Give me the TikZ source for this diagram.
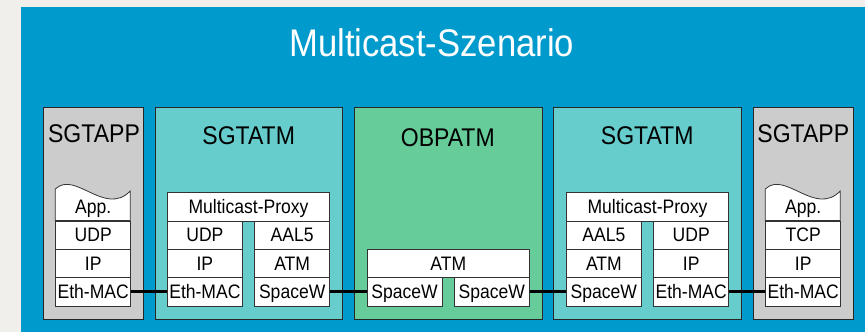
\documentclass[tikz,border=0pt]{standalone}
\usepackage{fontspec}
\setmainfont[FakeStretch=0.9]{Liberation Sans}
\definecolor{pagec}{HTML}{F0EFEC}
\definecolor{bluec}{HTML}{009ACC}
\definecolor{greyc}{HTML}{CCCCCC}
\definecolor{tealc}{HTML}{66CCCC}
\definecolor{greenc}{HTML}{66CC99}
\definecolor{edgec}{HTML}{262626}
\definecolor{layerc}{HTML}{333333}
\begin{document}
\begin{tikzpicture}[x=1pt,y=-1pt,
  outer/.style={draw=edgec, line width=1.1pt, anchor=north west, inner sep=0pt,
    minimum height=212pt},
  layer/.style={draw=layerc, line width=0.8pt, fill=white, anchor=north west,
    inner sep=0pt, minimum width=75pt, minimum height=28.3pt,
    font=\fontsize{19.5}{20}\selectfont, text height=13.5pt, text depth=0pt},
  widelayer/.style={layer, minimum width=162.3pt},
  boxtitle/.style={anchor=base, inner sep=0pt, font=\fontsize{25.6}{26}\selectfont},
  link/.style={line width=3pt, black}]
% page and blue panel
\useasboundingbox (0,0) rectangle (865,332);
\fill[pagec] (0,0) rectangle (865,332);
\fill[bluec] (21,7) rectangle (865,332);
\node[anchor=base, inner sep=0pt, text=white, font=\fontsize{38.5}{40}\selectfont]
  (title) at (431.7,56.7) {Multicast-Szenario};

% stations
\node[outer, fill=greyc,  minimum width=100pt]   (appL) at (42.7,107.3) {};
\node[outer, fill=tealc,  minimum width=187.3pt] (atmL) at (155,107.3) {};
\node[outer, fill=greenc, minimum width=187.7pt] (obp)  at (354,107.3) {};
\node[outer, fill=tealc,  minimum width=187.7pt] (atmR) at (553.3,107.3) {};
\node[outer, fill=greyc,  minimum width=99.4pt]  (appR) at (753.3,107.3) {};

\node[boxtitle] (tAppL) at (94,142) {SGTAPP};
\node[boxtitle] (tAtmL) at (248.7,144) {SGTATM};
\node[boxtitle] (tObp)  at (447.8,146) {OBPATM};
\node[boxtitle] (tAtmR) at (647.2,144) {SGTATM};
\node[boxtitle] (tAppR) at (803.3,142) {SGTAPP};

% left application station
\draw[draw=layerc, line width=0.8pt, fill=white]
  (55.3,220.6) -- (55.3,189) .. controls (75,170) and (105,217) .. (130.3,191)
  -- (130.3,220.6) -- cycle;
\node[layer, draw=none, fill=none] (lApp) at (55.3,192.3) {App.};
\node[layer] (lUdp) at (55.3,220.6) {UDP};
\node[layer] (lIp)  at (55.3,248.9) {IP};
\node[layer] (lMac) at (55.3,277.2) {Eth-MAC};

% left ATM gateway
\node[widelayer] (pxL) at (167,192.3) {Multicast-Proxy};
\node[layer] (gUdpL) at (167,220.6) {UDP};
\node[layer] (gIpL)  at (167,248.9) {IP};
\node[layer] (gMacL) at (167,277.2) {Eth-MAC};
\node[layer] (gAalL) at (254.3,220.6) {AAL5};
\node[layer] (gAtmL) at (254.3,248.9) {ATM};
\node[layer] (gSwL)  at (254.3,277.2) {SpaceW};

% on-board processor
\node[widelayer] (oAtm) at (366.7,248.9) {ATM};
\node[layer] (oSwL) at (366.7,277.2) {SpaceW};
\node[layer] (oSwR) at (454,277.2) {SpaceW};

% right ATM gateway
\node[widelayer] (pxR) at (566,192.3) {Multicast-Proxy};
\node[layer] (gAalR) at (566,220.6) {AAL5};
\node[layer] (gAtmR) at (566,248.9) {ATM};
\node[layer] (gSwR)  at (566,277.2) {SpaceW};
\node[layer] (gUdpR) at (653.3,220.6) {UDP};
\node[layer] (gIpR)  at (653.3,248.9) {IP};
\node[layer] (gMacR) at (653.3,277.2) {Eth-MAC};

% right application station
\draw[draw=layerc, line width=0.8pt, fill=white]
  (765.3,220.6) -- (765.3,189) .. controls (785,170) and (815,217) .. (840.3,191)
  -- (840.3,220.6) -- cycle;
\node[layer, draw=none, fill=none] (rApp) at (765.3,192.3) {App.};
\node[layer] (rTcp) at (765.3,220.6) {TCP};
\node[layer] (rIp)  at (765.3,248.9) {IP};
\node[layer] (rMac) at (765.3,277.2) {Eth-MAC};

% physical links
\draw[link] (lMac.east) -- (gMacL.west);
\draw[link] (gSwL.east) -- (oSwL.west);
\draw[link] (oSwR.east) -- (gSwR.west);
\draw[link] (gMacR.east) -- (rMac.west);
\end{tikzpicture}
\end{document}
